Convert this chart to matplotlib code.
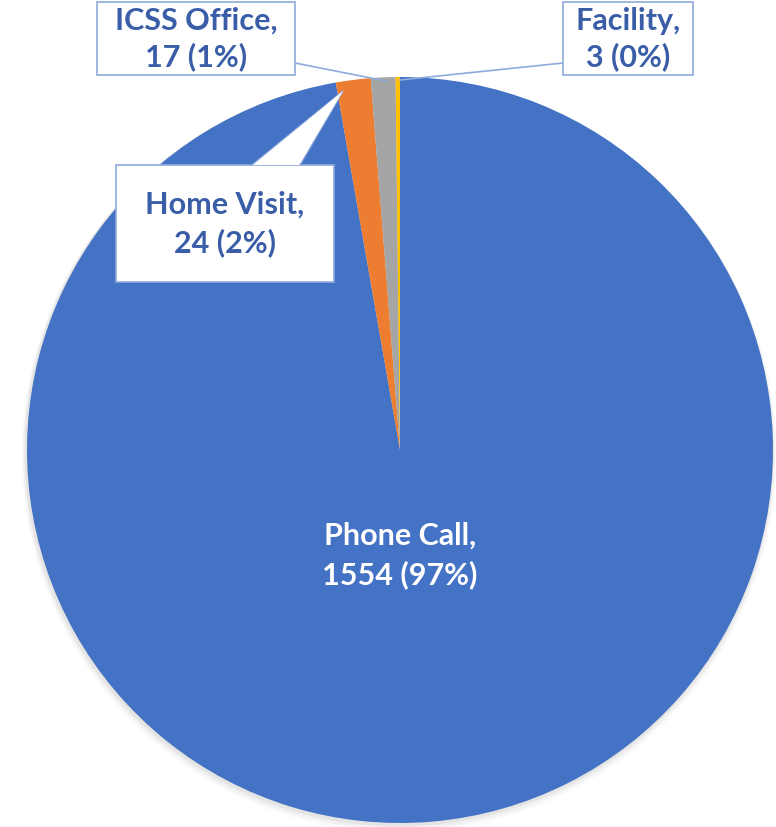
import matplotlib
matplotlib.use("Agg")
import matplotlib.pyplot as plt
from matplotlib.patches import Polygon, Circle

categories = ["Phone Call", "Home Visit", "ICSS Office", "Facility"]
counts = [1554, 24, 17, 3]
percents = ["97%", "2%", "1%", "0%"]
colors = ["#4472C4", "#ED7D31", "#A5A5A5", "#FFC000"]

W, H = 776, 828
fig = plt.figure(figsize=(W / 100, H / 100), dpi=100)
ax = fig.add_axes([0, 0, 1, 1])

cx, cy, r = 400, H - 451, 373

# subtle shadow
for i, a in enumerate([0.05, 0.035, 0.02]):
    ax.add_patch(Circle((cx - 1, cy - 2 - i * 1.5), r + 1.5 + i * 1.5, color="black", alpha=a, lw=0, zorder=0))

ax.pie(counts, colors=colors, startangle=90, counterclock=False, center=(cx, cy), radius=r,
       wedgeprops=dict(linewidth=0), frame=True)
ax.set_xlim(0, W)
ax.set_ylim(0, H)
ax.axis("off")

def Y(y):
    return H - y

txt_col = "#3A5DA8"
edge_col = "#8FAADC"
fs = 22
font = ["Lato", "DejaVu Sans"]

def box(x0, y0, x1, y1):
    ax.add_patch(Polygon([(x0, Y(y0)), (x1, Y(y0)), (x1, Y(y1)), (x0, Y(y1))], closed=True,
                         facecolor="white", edgecolor=edge_col, lw=1.2, zorder=5))

labels = [f"{c},\n{n} ({p})" for c, n, p in zip(categories, counts, percents)]

# Phone Call label
ax.text(cx, Y(555), labels[0], ha="center", va="center", color="white", fontsize=fs,
        fontweight="bold", family=font, linespacing=1.45, zorder=6)

# Home Visit callout
ax.add_patch(Polygon([(252, Y(166)), (343, Y(92)), (300, Y(166))], closed=True,
                     facecolor="white", edgecolor=edge_col, lw=1.0, zorder=4))
box(116, 166, 334, 283)
ax.add_patch(Polygon([(253, Y(166)), (343, Y(92)), (299, Y(166))], closed=True,
                     facecolor="white", edgecolor="none", zorder=5.5))
ax.text(225, Y(224), labels[1], ha="center", va="center", color=txt_col, fontsize=fs,
        fontweight="bold", family=font, linespacing=1.4, zorder=6)

# ICSS Office
ax.plot([295, 386], [Y(64), Y(82)], color=edge_col, lw=1.2, zorder=4)
box(97, 3, 295, 76)
ax.text(196, Y(39), labels[2], ha="center", va="center", color=txt_col, fontsize=fs,
        fontweight="bold", family=font, linespacing=1.3, zorder=6)

# Facility
ax.plot([563, 400], [Y(64), Y(81)], color=edge_col, lw=1.2, zorder=4)
box(563, 3, 693, 76)
ax.text(628, Y(39), labels[3], ha="center", va="center", color=txt_col, fontsize=fs,
        fontweight="bold", family=font, linespacing=1.3, zorder=6)

fig.savefig("out.png", dpi=100, facecolor="white")
